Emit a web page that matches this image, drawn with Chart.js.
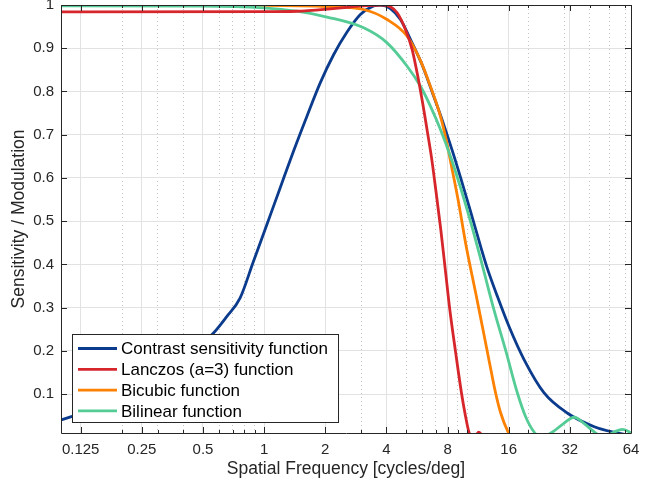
<!DOCTYPE html>
<html>
<head>
<meta charset="utf-8">
<script src="https://cdn.jsdelivr.net/npm/chart.js@4.4.1/dist/chart.umd.min.js"></script>
<style>
  html, body { margin: 0; padding: 0; background: #fff; }
</style>
</head>
<body>
<canvas id="grafico" width="645" height="488"></canvas>
<script>
// 1. DADOS
const ticksX = [0.125, 0.25, 0.5, 1, 2, 4, 8, 16, 32, 64];
const ticksXMenores = [0.2, 0.3, 0.4, 0.6, 0.7, 0.8, 0.9, 3, 5, 6, 7, 9, 10, 20, 30, 40, 50, 60];
const ticksY = [0.1, 0.2, 0.3, 0.4, 0.5, 0.6, 0.7, 0.8, 0.9, 1];

const nomes = ['Contrast sensitivity function', 'Lanczos (a=3) function', 'Bicubic function', 'Bilinear function'];
const cores = ['#0b3b8c', '#d7262b', '#fd8103', '#55cc96'];

const freqCsf = [0.1, 0.1125, 0.155, 0.245, 0.385, 0.562, 0.6545, 0.761, 0.8856, 1.031, 1.199, 1.395, 1.625, 1.889, 2.198, 2.56, 2.977, 3.46, 3.737,
                 4.186, 4.69, 5.345, 5.988, 6.708, 7.515, 8.47, 9.274, 10.39, 11.77, 12.46, 14.07, 16.06, 19.04, 23.9, 31.18, 42.2, 53.97, 64];
const csf     = [0.0405, 0.0481, 0.0683, 0.11, 0.1748, 0.2412, 0.2796, 0.3222, 0.407, 0.492, 0.577, 0.662, 0.743, 0.82, 0.885, 0.9375, 0.978, 0.998, 1.0,
                 0.9919, 0.9664, 0.9132, 0.8623, 0.7998, 0.735, 0.6609, 0.6007, 0.522, 0.434, 0.3958, 0.3264, 0.2565, 0.1801, 0.103, 0.056, 0.025, 0.0111, 0.0046];

const freqLanczos = [0.1, 1, 1.45, 2.117, 2.657, 3.187, 3.866, 4.186, 4.517, 4.963, 5.356, 5.709, 6.07, 6.351, 6.67, 7.02, 7.41, 7.82, 8.21, 8.76, 9.35, 9.76, 10.19, 10.75, 11.38, 12.18];
const lanczos     = [0.9843, 0.9845, 0.9856, 0.9912, 0.9954, 0.9988, 1.0, 0.9961, 0.9819, 0.9433, 0.897, 0.8352, 0.7657, 0.7095, 0.647, 0.5683, 0.4803, 0.3831, 0.2951, 0.1979, 0.1053, 0.0544, 0.0127, -0.004, 0.0125, -0.004];

const freqBicubic = [0.1, 1, 2.117, 3.09, 4.03, 5.06, 5.885, 6.594, 7.388, 7.91, 8.47, 9.07, 9.87, 11.0, 11.87, 12.79, 13.8, 14.61, 15.88, 17.33];
const bicubic     = [0.9995, 0.999, 0.9958, 0.9896, 0.9664, 0.9278, 0.8715, 0.8113, 0.7419, 0.684, 0.6146, 0.5428, 0.4433, 0.3345, 0.2565, 0.1794, 0.1023, 0.0567, 0.0127, -0.017];

const freqBilinear = [0.1, 0.5, 0.992, 1.45, 2.039, 3.09, 4.03, 5.06, 5.885, 6.594, 7.388, 8.278, 9.274, 10.39, 11.64, 13.54, 15.46, 17.67, 19.41, 21.33,
                      23.0, 26.3, 29.55, 33.6, 37.95, 42.2, 47.1, 52.9, 58.2, 62.8, 64];
const bilinear     = [0.998, 0.9977, 0.9935, 0.9856, 0.9722, 0.9472, 0.9125, 0.8583, 0.812, 0.7657, 0.7118, 0.6493, 0.5775, 0.4988, 0.4132, 0.2951, 0.2014, 0.1023, 0.0475, 0.0127,
                      0, 0.0127, 0.031, 0.0468, 0.031, 0.0127, 0, 0.0127, 0.019, 0.0127, 0.009];

// 2. AUXILIARES
const fonte = "'Liberation Sans', Arial, Helvetica, sans-serif";
const corTexto = '#262626';
const pontos = (fs, vs) => fs.map((f, i) => ({ x: f, y: vs[i] }));

function serie(i, fs, vs, ordem) {
    return {
        label: nomes[i],
        data: pontos(fs, vs),
        borderColor: cores[i],
        backgroundColor: cores[i],
        borderWidth: 2.8,
        pointRadius: 0,
        cubicInterpolationMode: 'monotone',
        clip: 0,
        order: ordem
    };
}

// sem folga extra para os rótulos nas pontas
function semFolga(s) {
    s.paddingTop = 0; s.paddingBottom = 0;
    s.paddingLeft = 0; s.paddingRight = 0;
}

// 3. PLUGINS (caixa com ticks para dentro + legenda dentro do gráfico)
const caixaPlugin = {
    id: 'caixa',
    afterDatasetsDraw(chart) {
        const { ctx, chartArea: a, scales: { x, y } } = chart;
        const px = v => Math.round(v) + 0.5;
        ctx.save();
        ctx.strokeStyle = corTexto;
        ctx.lineWidth = 1;
        ctx.beginPath();
        ctx.rect(px(a.left), px(a.top), Math.round(a.right) - Math.round(a.left), Math.round(a.bottom) - Math.round(a.top));
        const risco = (lista, tam) => lista.forEach(v => {
            const p = px(x.getPixelForValue(v));
            ctx.moveTo(p, a.bottom); ctx.lineTo(p, a.bottom - tam);
            ctx.moveTo(p, a.top); ctx.lineTo(p, a.top + tam);
        });
        risco(ticksX, 6);
        risco(ticksXMenores, 3);
        ticksY.forEach(v => {
            const p = px(y.getPixelForValue(v));
            ctx.moveTo(a.left, p); ctx.lineTo(a.left + 6, p);
            ctx.moveTo(a.right, p); ctx.lineTo(a.right - 6, p);
        });
        ctx.stroke();
        ctx.restore();
    }
};

const legendaPlugin = {
    id: 'legenda',
    afterDraw(chart) {
        const ctx = chart.ctx;
        const x0 = 72, y0 = 334, w = 266, h = 88, passo = 20.8;
        ctx.save();
        ctx.fillStyle = '#fff';
        ctx.fillRect(x0, y0, w, h);
        ctx.strokeStyle = corTexto;
        ctx.lineWidth = 1;
        ctx.strokeRect(x0 + 0.5, y0 + 0.5, w, h);
        ctx.font = '17px ' + fonte;
        ctx.textBaseline = 'middle';
        nomes.forEach((n, i) => {
            const yy = y0 + 14.5 + i * passo;
            ctx.strokeStyle = cores[i];
            ctx.lineWidth = 2.8;
            ctx.beginPath();
            ctx.moveTo(78, yy); ctx.lineTo(117, yy);
            ctx.stroke();
            ctx.fillStyle = '#000';
            ctx.fillText(n, 121, yy + 1);
        });
        ctx.restore();
    }
};

// 4. GRÁFICO
const grafico = new Chart(document.getElementById('grafico'), {
    type: 'line',
    data: {
        datasets: [
            serie(0, freqCsf, csf, 3),
            serie(1, freqLanczos, lanczos, 0),
            serie(2, freqBicubic, bicubic, 2),
            serie(3, freqBilinear, bilinear, 1)
        ]
    },
    options: {
        responsive: false,
        devicePixelRatio: 1,
        animation: false,
        layout: { padding: { top: 5, right: 14, left: 0, bottom: 0 } },
        plugins: { legend: { display: false }, tooltip: { enabled: false } },
        scales: {
            x: {
                type: 'logarithmic',
                position: 'bottom',
                min: 0.1,
                max: 64,
                afterBuildTicks: s => { s.ticks = ticksX.map(v => ({ value: v })); },
                afterFit: s => { s.height = 55; semFolga(s); },
                ticks: {
                    autoSkip: false, maxRotation: 0, padding: 8,
                    color: corTexto, font: { family: fonte, size: 15 },
                    callback: v => String(v)
                },
                grid: { color: '#e2e2e2', lineWidth: 1, drawTicks: false },
                border: { display: false },
                title: {
                    display: true, text: 'Spatial Frequency [cycles/deg]',
                    color: corTexto, font: { family: fonte, size: 17.5 },
                    padding: { top: 0, bottom: 8 }
                }
            },
            xMenor: {
                type: 'logarithmic',
                position: 'top',
                min: 0.1,
                max: 64,
                afterBuildTicks: s => { s.ticks = ticksXMenores.map(v => ({ value: v })); },
                afterFit: s => { s.height = 0; semFolga(s); },
                ticks: { display: false },
                grid: { color: '#c4c4c4', lineWidth: 1, drawTicks: false },
                border: { display: false, dash: [1, 3] }
            },
            y: {
                type: 'linear',
                min: 0.0104,
                max: 1,
                afterBuildTicks: s => { s.ticks = ticksY.map(v => ({ value: v })); },
                afterFit: s => { s.width = 61; semFolga(s); },
                ticks: {
                    padding: 7, color: corTexto, font: { family: fonte, size: 15 },
                    callback: v => String(v)
                },
                grid: { color: '#e2e2e2', lineWidth: 1, drawTicks: false },
                border: { display: false },
                title: {
                    display: true, text: 'Sensitivity / Modulation',
                    color: corTexto, font: { family: fonte, size: 17.5 },
                    padding: { top: 9, bottom: 0 }
                }
            }
        }
    },
    plugins: [caixaPlugin, legendaPlugin]
});
</script>
</body>
</html>
